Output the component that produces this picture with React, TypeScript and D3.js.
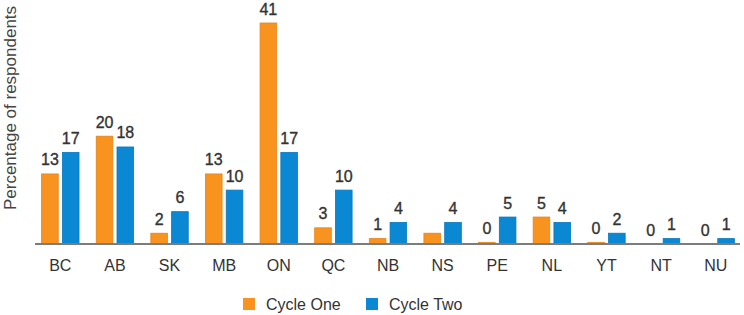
import React from "react";
import * as d3 from "d3";

const categories = ["BC", "AB", "SK", "MB", "ON", "QC", "NB", "NS", "PE", "NL", "YT", "NT", "NU"];
const seriesNames = ["Cycle One", "Cycle Two"];
const cycleOne = [13, 20, 2, 13, 41, 3, 1, 2, 0.3, 5, 0.3, 0, 0];
const cycleTwo = [17, 18, 6, 10, 17, 10, 4, 4, 5, 4, 2, 1, 1];
const cycleOneLabels = ["13", "20", "2", "13", "41", "3", "1", "", "0", "5", "0", "0", "0"];
const cycleTwoLabels = ["17", "18", "6", "10", "17", "10", "4", "4", "5", "4", "2", "1", "1"];
const yAxisTitle = "Percentage of respondents";

const W = 744;
const H = 315;
const COLORS = ["#F7931E", "#0A88D3"];
const STROKES = ["#E6841A", "#0878BD"];
const FONT = "'Liberation Sans', Arial, Helvetica, sans-serif";

export default function App() {
  const x0 = d3.scaleBand<string>().domain(categories).range([33, 743]).padding(0);
  const x1 = d3
    .scaleBand<string>()
    .domain(seriesNames)
    .range([(x0.bandwidth() - 37.4) / 2, (x0.bandwidth() + 37.4) / 2])
    .paddingInner(0.2);
  const y = d3.scaleLinear().domain([0, 41]).range([244, 23]);

  const series = [
    { name: seriesNames[0], values: cycleOne, labels: cycleOneLabels },
    { name: seriesNames[1], values: cycleTwo, labels: cycleTwoLabels },
  ];

  return (
    <svg
      width={W}
      height={H}
      style={{ position: "absolute", left: 0, top: 0, background: "#fff" }}
      fontFamily={FONT}
    >
      <text
        transform={`translate(16,108) rotate(-90)`}
        textAnchor="middle"
        fontSize={17}
        fill="#444"
      >
        {yAxisTitle}
      </text>

      {series.map((s, si) =>
        categories.map((c, i) => {
          const v = s.values[i];
          const bx = (x0(c) ?? 0) + (x1(s.name) ?? 0);
          const bw = x1.bandwidth();
          const top = y(v);
          const h = y(0) - top;
          return (
            <g key={`${si}-${c}`}>
              {h > 0 && (
                <rect
                  x={bx}
                  y={top}
                  width={bw}
                  height={h}
                  fill={COLORS[si]}
                  stroke={STROKES[si]}
                  strokeWidth={0.8}
                />
              )}
              {s.labels[i] !== "" && (
                <text
                  x={bx + bw / 2}
                  y={top - 8.5}
                  textAnchor="middle"
                  fontSize={16}
                  fill="#333"
                  stroke="#333"
                  strokeWidth={0.35}
                >
                  {s.labels[i]}
                </text>
              )}
            </g>
          );
        })
      )}

      <line x1={35} x2={740} y1={244} y2={244} stroke="#7c7c7c" strokeWidth={2} />

      {categories.map((c) => (
        <text
          key={c}
          x={(x0(c) ?? 0) + x0.bandwidth() / 2}
          y={271}
          textAnchor="middle"
          fontSize={16}
          fill="#333"
        >
          {c}
        </text>
      ))}

      {seriesNames.map((n, i) => {
        const lx = [243, 366][i];
        return (
          <g key={n}>
            <rect x={lx} y={298} width={12} height={12} fill={COLORS[i]} />
            <text x={lx + 23} y={310} fontSize={16} fill="#333">
              {n}
            </text>
          </g>
        );
      })}
    </svg>
  );
}
